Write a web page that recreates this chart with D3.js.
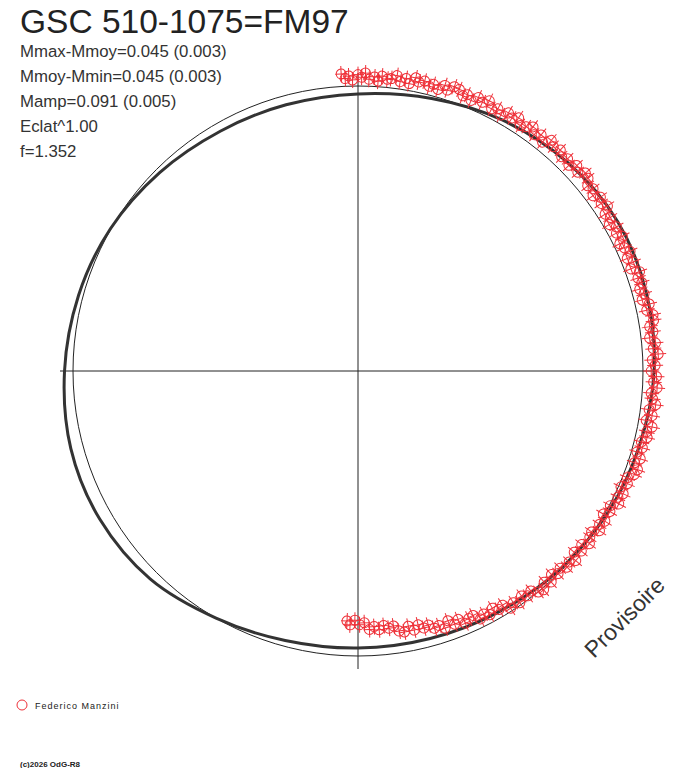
<!DOCTYPE html>
<html>
<head>
<meta charset="utf-8">
<script src="https://cdn.jsdelivr.net/npm/d3@7"></script>
<style>
  body { margin: 0; background: #fff; }
  svg { display: block; }
  text { font-family: "Liberation Sans", Arial, sans-serif; fill: #222; }
</style>
</head>
<body>
<div id="chart"></div>
<script>
// Chart texts
var title = "GSC 510-1075=FM97";
var statLines = ["Mmax-Mmoy=0.045 (0.003)", "Mmoy-Mmin=0.045 (0.003)", "Mamp=0.091 (0.005)", "Eclat^1.00", "f=1.352"];
var observer = "Federico Manzini";
var copyright = "(c)2026 OdG-R8";
var stamp = "Provisoire";

// Fitted light curve (phase, magnitude offset from mean, outward = positive)
var modelPhase = [0, 0.042, 0.083, 0.125, 0.167, 0.208, 0.25, 0.292, 0.333, 0.375, 0.417, 0.458,
                  0.5, 0.542, 0.583, 0.625, 0.667, 0.708, 0.75, 0.792, 0.833, 0.875, 0.917, 0.958];
var modelMag = [-0.030, -0.010, 0.017, 0.040, 0.055, 0.052, 0.042, 0.023, 0.008, -0.008, -0.023, -0.030,
                -0.030, -0.022, 0.000, 0.034, 0.048, 0.047, 0.032, 0.017, 0.002, -0.017, -0.032, -0.035];

// Observations (phase, magnitude offset from mean)
var obsPhase = [-0.009, -0.007, -0.005, -0.003, 0.000, 0.002, 0.004, 0.006, 0.009, 0.011, 0.013, 0.016,
  0.018, 0.021, 0.023, 0.026, 0.028, 0.031, 0.033, 0.036, 0.039, 0.041, 0.044, 0.047, 0.049, 0.052,
  0.055, 0.058, 0.060, 0.063, 0.066, 0.069, 0.072, 0.075, 0.078, 0.081, 0.084, 0.087, 0.090, 0.093,
  0.096, 0.099, 0.102, 0.105, 0.108, 0.111, 0.114, 0.118, 0.121, 0.124, 0.127, 0.130, 0.133, 0.136,
  0.139, 0.142, 0.145, 0.148, 0.151, 0.154, 0.157, 0.160, 0.163, 0.166, 0.169, 0.172, 0.175, 0.178,
  0.181, 0.184, 0.187, 0.190, 0.193, 0.196, 0.199, 0.202, 0.205, 0.208, 0.211, 0.214, 0.217, 0.220,
  0.223, 0.226, 0.229, 0.232, 0.235, 0.238, 0.241, 0.244, 0.247, 0.250, 0.253, 0.256, 0.259, 0.262,
  0.265, 0.268, 0.271, 0.274, 0.277, 0.280, 0.283, 0.286, 0.289, 0.292, 0.295, 0.298, 0.301, 0.304,
  0.307, 0.310, 0.313, 0.316, 0.319, 0.322, 0.325, 0.328, 0.331, 0.334, 0.337, 0.340, 0.343, 0.346,
  0.349, 0.352, 0.355, 0.358, 0.361, 0.364, 0.367, 0.370, 0.373, 0.376, 0.379, 0.382, 0.385, 0.388,
  0.391, 0.394, 0.397, 0.400, 0.403, 0.406, 0.409, 0.412, 0.415, 0.418, 0.421, 0.424, 0.427, 0.430,
  0.433, 0.436, 0.439, 0.442, 0.445, 0.448, 0.451, 0.454, 0.457, 0.460, 0.463, 0.466, 0.469, 0.472,
  0.475, 0.478, 0.481, 0.484, 0.487, 0.490, 0.493, 0.496, 0.499, 0.502, 0.505, 0.507];
var obsMag = [0.047, 0.029, 0.038, 0.023, 0.043, 0.033, 0.049, 0.026, 0.036, 0.021, 0.041, 0.031,
  0.035, 0.049, 0.028, 0.043, 0.026, 0.052, 0.039, 0.047, 0.032, 0.043, 0.029, 0.051, 0.037, 0.057,
  0.054, 0.036, 0.046, 0.031, 0.052, 0.042, 0.058, 0.035, 0.046, 0.031, 0.052, 0.042, 0.056, 0.035,
  0.044, 0.058, 0.037, 0.052, 0.034, 0.060, 0.047, 0.055, 0.040, 0.050, 0.036, 0.057, 0.043, 0.062,
  0.057, 0.038, 0.047, 0.031, 0.050, 0.039, 0.053, 0.029, 0.039, 0.022, 0.041, 0.030, 0.044, 0.023,
  0.032, 0.046, 0.026, 0.042, 0.024, 0.051, 0.038, 0.046, 0.032, 0.043, 0.030, 0.052, 0.038, 0.058,
  0.056, 0.038, 0.047, 0.032, 0.052, 0.042, 0.059, 0.036, 0.046, 0.031, 0.051, 0.041, 0.055, 0.034,
  0.041, 0.055, 0.033, 0.047, 0.028, 0.054, 0.038, 0.044, 0.027, 0.036, 0.021, 0.040, 0.024, 0.043,
  0.038, 0.018, 0.026, 0.009, 0.027, 0.015, 0.029, 0.004, 0.013, -0.004, 0.015, 0.004, 0.017, -0.005,
  0.001, 0.014, -0.007, 0.007, -0.011, 0.014, -0.001, 0.006, -0.010, -0.001, -0.016, 0.004, -0.013, 0.007,
  0.001, -0.020, -0.012, -0.026, -0.009, -0.023, -0.011, -0.037, -0.030, -0.047, -0.030, -0.043, -0.032, -0.056,
  -0.052, -0.041, -0.065, -0.053, -0.074, -0.051, -0.068, -0.063, -0.081, -0.074, -0.091, -0.075, -0.094, -0.075,
  -0.082, -0.104, -0.098, -0.110, -0.096, -0.109, -0.099, -0.125, -0.118, -0.135, -0.117, -0.131];

var width = 688;
var height = 768;
var cx = 358;
var cy = 371;
var axisLen = 298;

var svg = d3.select("#chart")
    .append("svg")
    .attr("width", width)
    .attr("height", height);

// radius from magnitude offset (265 px per mag), angle from phase (clockwise from top)
var r = d3.scaleLinear().domain([0, 0.05]).range([285, 298.25]);
var a = d3.scaleLinear().domain([0, 1]).range([0, 2 * Math.PI]);

var plot = svg.append("g").attr("transform", "translate(" + cx + "," + cy + ")");

// cross hair
plot.append("line").attr("x1", -axisLen).attr("x2", axisLen).attr("y1", 0).attr("y2", 0)
    .attr("stroke", "#222").attr("stroke-width", 1);
plot.append("line").attr("x1", 0).attr("x2", 0).attr("y1", -axisLen).attr("y2", axisLen)
    .attr("stroke", "#222").attr("stroke-width", 1);

// mean magnitude circle
plot.append("circle").attr("r", r(0))
    .attr("fill", "none").attr("stroke", "#222").attr("stroke-width", 1);

// fitted curve
var model = modelPhase.map(function (p, i) { return { p: p, m: modelMag[i] }; });
var lineFunc = d3.lineRadial()
    .angle(function (d) { return a(d.p); })
    .radius(function (d) { return r(d.m); })
    .curve(d3.curveCardinalClosed);
plot.append("path")
    .attr("d", lineFunc(model))
    .attr("fill", "none")
    .attr("stroke", "#333")
    .attr("stroke-width", 3);

// observations : circle + radial error bar
var obs = obsPhase.map(function (p, i) { return { p: p, m: obsMag[i] }; });
var red = "#ee3038";
var pts = plot.selectAll("g.obs").data(obs).enter().append("g")
    .attr("class", "obs")
    .attr("transform", function (d) {
        var ang = a(d.p), rr = r(d.m);
        return "translate(" + (rr * Math.sin(ang)) + "," + (-rr * Math.cos(ang)) + ") rotate(" + (ang * 180 / Math.PI) + ")";
    });
pts.append("circle").attr("r", 5).attr("fill", "none").attr("stroke", red).attr("stroke-width", 1);
pts.append("line").attr("x1", 0).attr("x2", 0).attr("y1", -8).attr("y2", 8).attr("stroke", red).attr("stroke-width", 1);
pts.append("line").attr("x1", -6).attr("x2", 6).attr("y1", 0).attr("y2", 0).attr("stroke", red).attr("stroke-width", 1);

// texts
svg.append("text").attr("x", 20).attr("y", 33).style("font-size", "33.5px").text(title);
svg.selectAll("text.stat").data(statLines).enter().append("text")
    .attr("class", "stat")
    .attr("x", 20)
    .attr("y", function (d, i) { return 57 + i * 25; })
    .style("font-size", "16.8px")
    .style("fill", "#333")
    .text(function (d) { return d; });

svg.append("text")
    .attr("transform", "translate(594,659) rotate(-45)")
    .style("font-size", "23px")
    .style("fill", "#333")
    .text(stamp);

// legend
svg.append("circle").attr("cx", 22).attr("cy", 705).attr("r", 5)
    .attr("fill", "none").attr("stroke", red).attr("stroke-width", 1);
svg.append("text").attr("x", 35).attr("y", 709)
    .style("font-size", "9px").style("letter-spacing", "1px")
    .text(observer);
svg.append("text").attr("x", 20).attr("y", 767)
    .style("font-size", "8px").style("font-weight", "bold")
    .text(copyright);
</script>
</body>
</html>
